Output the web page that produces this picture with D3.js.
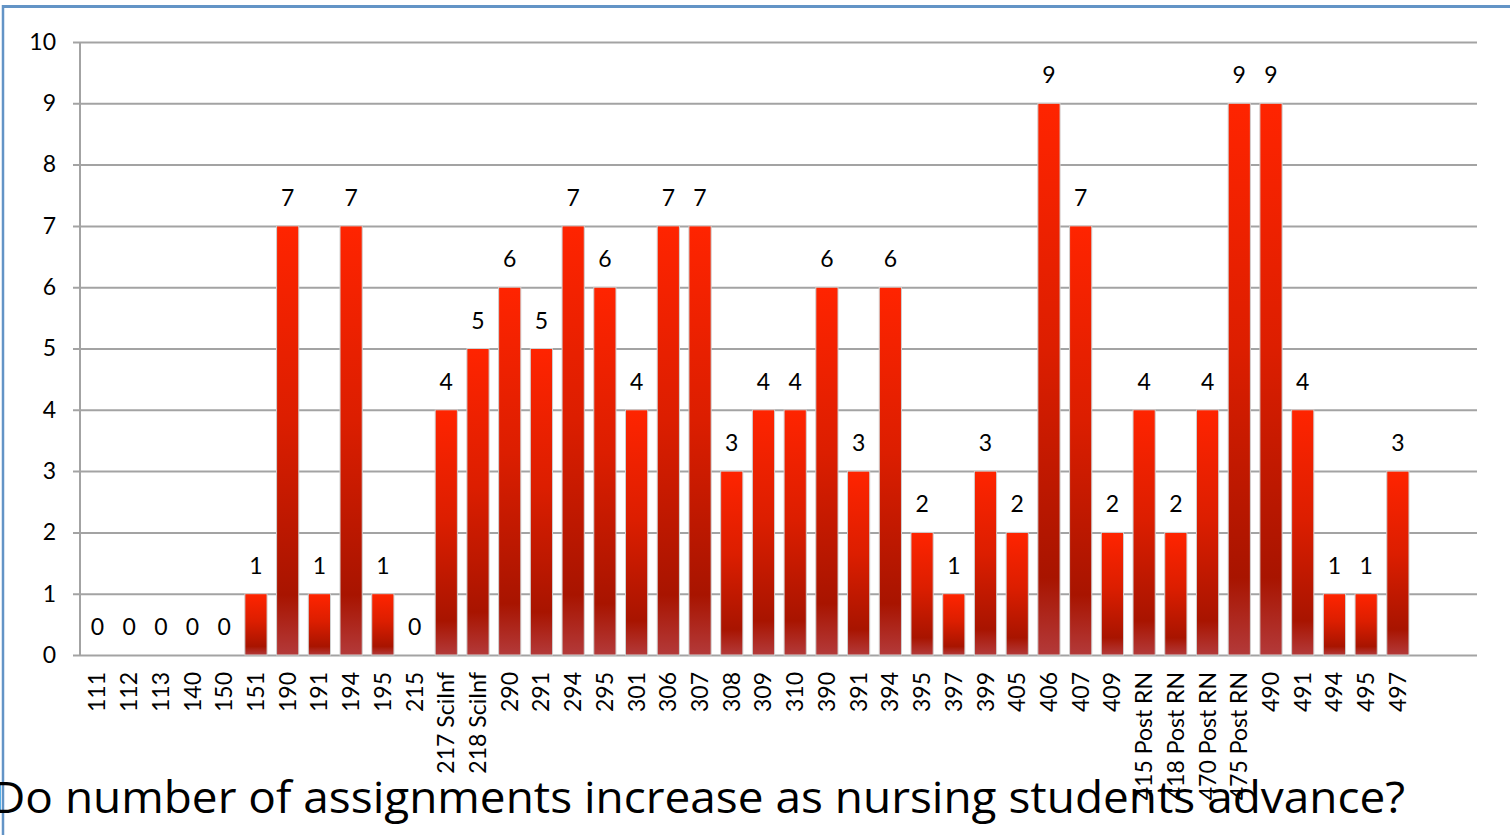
<!DOCTYPE html>
<html>

<head>
  <title>Assignments by course</title>
</head>

<style>
  body,
  html {
    margin: 0;
    padding: 0;
    background: #fff;
  }

  #svg {
    display: block;
  }
</style>

<body>

  <svg id="svg" width="1510" height="835"></svg>

  <script src="https://d3js.org/d3.v7.min.js"></script>
  <script>

    // data
    const courses = ['111', '112', '113', '140', '150', '151', '190', '191', '194', '195', '215',
      '217 SciInf', '218 SciInf', '290', '291', '294', '295', '301', '306', '307', '308', '309', '310',
      '390', '391', '394', '395', '397', '399', '405', '406', '407', '409',
      '415 Post RN', '418 Post RN', '470 Post RN', '475 Post RN', '490', '491', '494', '495', '497']
    const assignments = [0, 0, 0, 0, 0, 1, 7, 1, 7, 1, 0,
      4, 5, 6, 5, 7, 6, 4, 7, 7, 3, 4, 4,
      6, 3, 6, 2, 1, 3, 2, 9, 7, 2,
      4, 2, 4, 9, 9, 4, 1, 1, 3]
    const yTicks = [0, 1, 2, 3, 4, 5, 6, 7, 8, 9, 10]
    const title = 'Do number of assignments increase as nursing students advance?'

    const data = courses.map((c, i) => ({ course: c, value: assignments[i] }))

    const svg = d3.select('#svg')
    const numFont = 'Lato, "DejaVu Sans", sans-serif'

    // slide frame (blue line top and left)
    svg.append('line')
      .attr('x1', 2).attr('x2', 1510).attr('y1', 6.5).attr('y2', 6.5)
      .attr('stroke', '#6394c6').attr('stroke-width', 3)
    svg.append('line')
      .attr('x1', 3).attr('x2', 3).attr('y1', 5).attr('y2', 835)
      .attr('stroke', '#6394c6').attr('stroke-width', 2.5)

    // scales
    const left = 80
    const step = 31.72
    const xscale = d3.scaleBand()
      .domain(courses)
      .range([left + 1.5, left + 1.5 + step * courses.length])
      .paddingInner(0.3)
      .paddingOuter(0.15)

    const yscale = d3.scaleLinear()
      .domain([0, 10])
      .range([655, 42])

    // gradient for the bars
    const grad = svg.append('defs').append('linearGradient')
      .attr('id', 'barGrad')
      .attr('x1', 0).attr('y1', 0).attr('x2', 0).attr('y2', 1)
    grad.append('stop').attr('offset', '0%').attr('stop-color', '#ff2400')
    grad.append('stop').attr('offset', '45%').attr('stop-color', '#dc1e00')
    grad.append('stop').attr('offset', '86%').attr('stop-color', '#a81400')
    grad.append('stop').attr('offset', '100%').attr('stop-color', '#b33a3a')

    // gridlines + ticks
    const yaxis = d3.axisLeft(yscale)
      .tickValues(yTicks)
      .tickSize(-(1477 - left))
      .tickPadding(24)
      .tickFormat(d3.format('d'))

    const gy = svg.append('g')
      .attr('transform', `translate(${left},0)`)
      .call(yaxis)
    gy.select('.domain').remove()
    gy.selectAll('.tick line')
      .attr('x1', -7)
      .attr('stroke', '#a3a3a3')
      .attr('stroke-width', 2)
    gy.selectAll('.tick text')
      .attr('font-family', numFont)
      .attr('font-size', 23)
      .attr('fill', '#000')

    // y axis line
    svg.append('line')
      .attr('x1', left).attr('x2', left)
      .attr('y1', yscale(10)).attr('y2', yscale(0) + 1)
      .attr('stroke', '#a3a3a3').attr('stroke-width', 2)

    // bars
    svg.append('g')
      .selectAll('rect')
      .data(data.filter(d => d.value > 0))
      .join('rect')
      .attr('x', d => xscale(d.course))
      .attr('y', d => yscale(d.value))
      .attr('width', xscale.bandwidth())
      .attr('height', d => yscale(0) - yscale(d.value))
      .attr('fill', 'url(#barGrad)')
      .attr('stroke', '#d0d0d0')
      .attr('stroke-width', 1)

    // value labels
    svg.append('g')
      .selectAll('text')
      .data(data)
      .join('text')
      .attr('x', d => xscale(d.course) + xscale.bandwidth() / 2)
      .attr('y', d => yscale(d.value) - 20)
      .attr('text-anchor', 'middle')
      .attr('font-family', numFont)
      .attr('font-size', 23)
      .attr('fill', '#000')
      .text(d => d.value)

    // category labels, rotated
    svg.append('g')
      .selectAll('text')
      .data(courses)
      .join('text')
      .attr('transform', d => `translate(${xscale(d) + xscale.bandwidth() / 2 + 8},672) rotate(-90)`)
      .attr('text-anchor', 'end')
      .attr('font-family', numFont)
      .attr('font-size', 23)
      .attr('fill', '#000')
      .text(d => d)

    // slide title on top (runs off the left edge, as on the slide)
    svg.append('text')
      .attr('x', -8)
      .attr('y', 813)
      .attr('font-family', '"Open Sans", "Noto Sans", sans-serif')
      .attr('font-size', 44)
      .attr('textLength', 1413)
      .attr('lengthAdjust', 'spacingAndGlyphs')
      .attr('fill', '#000')
      .text(title)

  </script>

</body>

</html>
